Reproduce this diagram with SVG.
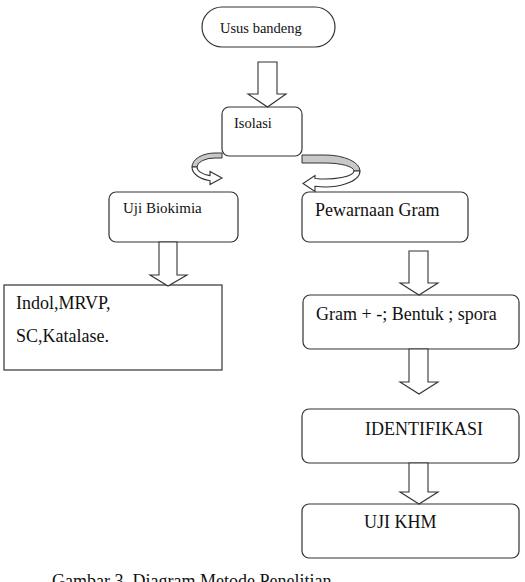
<svg xmlns="http://www.w3.org/2000/svg" width="525" height="582" viewBox="0 0 525 582">
<style>
.box{fill:#fff;stroke:#333;stroke-width:1.2}
.arr{fill:#fff;stroke:#333;stroke-width:1.1;stroke-linejoin:miter}
.band{fill:#c8c8c8;stroke:#333;stroke-width:1}
.t{font-family:"Liberation Serif","Times New Roman",serif;fill:#111}
</style>
<rect width="525" height="582" fill="#fff"/>
<g id="usus"><rect class="box" x="202" y="7" width="133" height="40" rx="20"/><text class="t" x="220" y="33" font-size="14.5">Usus bandeng</text></g>
<g id="isolasi"><rect class="box" x="222" y="107" width="80" height="49" rx="7"/><text class="t" x="234" y="128" font-size="14.5">Isolasi</text></g>
<g id="biokimia"><rect class="box" x="109" y="192" width="129" height="50" rx="7"/><text class="t" x="123" y="213" font-size="15">Uji Biokimia</text></g>
<g id="pewarnaan"><rect class="box" x="302" y="192" width="166" height="50" rx="7"/><text class="t" x="315" y="216" font-size="18">Pewarnaan Gram</text></g>
<g id="indol"><rect class="box" x="4" y="285" width="218" height="85"/><text class="t" x="16" y="309" font-size="18">Indol,MRVP,</text><text class="t" x="16" y="342" font-size="18">SC,Katalase.</text></g>
<g id="gram"><rect class="box" x="303" y="295" width="216" height="54" rx="7"/><text class="t" x="316" y="320" font-size="18">Gram + -; Bentuk ; spora</text></g>
<g id="identifikasi"><rect class="box" x="302" y="409" width="217" height="54" rx="7"/><text class="t" x="365" y="435" font-size="18">IDENTIFIKASI</text></g>
<g id="ujikhm"><rect class="box" x="302" y="504" width="217" height="54" rx="7"/><text class="t" x="364" y="528" font-size="18">UJI KHM</text></g>
<g id="connectors">
<polygon class="arr" points="258,62 277,62 277,94 286,94 267.5,107 248,94 258,94"/>
<polygon class="arr" points="159,242 177,242 177,275 187,275 168,286 150,275 159,275"/>
<polygon class="arr" points="409,251 428,251 428,283 438,283 419,295 400,283 409,283"/>
<polygon class="arr" points="409,349 428,349 428,382 438,382 419,394 400,382 409,382"/>
<polygon class="arr" points="409,463 428,463 428,492 438,492 419,504 400,492 409,492"/>
<path class="band" d="M222,153 L215,153 A23,14 0 0 0 192,167 L197,167 A18,9 0 0 1 215,158 L222,158 Z"/>
<path class="arr" d="M192,167 A23,14 0 0 0 210,180.7 L210,184.5 L222,178 L210,171.5 L210,175.6 A18,9 0 0 1 197,167 Z"/>
<path class="band" d="M302,155 L325,155 A35,16 0 0 1 360,171 L354,171 A29,8 0 0 0 325,163 L302,163 Z"/>
<path class="arr" d="M360,171 A35,16 0 0 1 315,186.3 L315,191.5 L303,183.5 L315,175.5 L315,178.5 A29,8 0 0 0 354,171 Z"/>
</g>
<text class="t" x="52" y="587" font-size="18">Gambar 3. Diagram Metode Penelitian</text>
</svg>
